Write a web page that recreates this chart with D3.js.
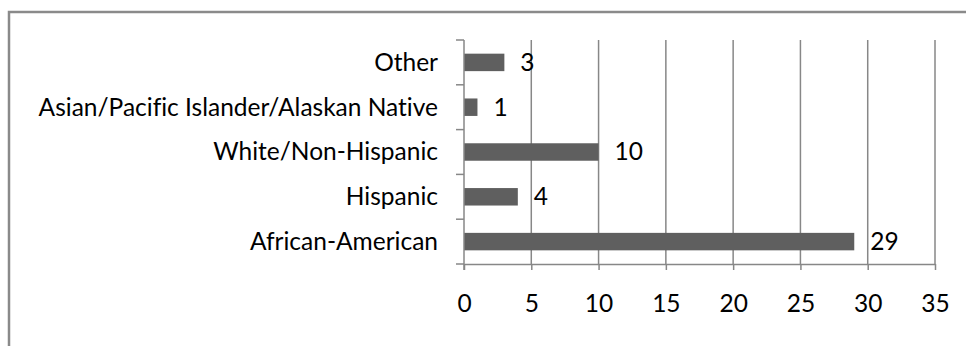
<!DOCTYPE html>
<html>
<head>
<meta charset="utf-8">
<script src="https://cdn.jsdelivr.net/npm/d3@7/dist/d3.min.js"></script>
<style>
  html, body { margin: 0; padding: 0; background: #fff; }
  svg { display: block; }
  text { font-family: Lato, "Open Sans", sans-serif; fill: #000; font-variant-ligatures: none; }
</style>
</head>
<body>
<svg id="chart" width="966" height="346"></svg>
<script>
// Categories listed bottom to top as drawn on the chart
const categories = ["African-American", "Hispanic", "White/Non-Hispanic", "Asian/Pacific Islander/Alaskan Native", "Other"];
const values = [29, 4, 10, 1, 3];
const xTicks = [0, 5, 10, 15, 20, 25, 30, 35];

const svg = d3.select("#chart");
const W = 966, H = 346;
const FONT = 24.5;

// Outer frame (open to the right and bottom)
svg.append("path")
  .attr("d", `M9,${H + 2} V12 H${W + 2}`)
  .attr("fill", "none")
  .attr("stroke", "#8a8a8a")
  .attr("stroke-width", 2.5);

const plot = { left: 464, right: 935, top: 40, bottom: 264 };

const x = d3.scaleLinear().domain([0, 35]).range([plot.left, plot.right]);
const y = d3.scaleBand()
  .domain(categories.slice().reverse())
  .range([plot.top, plot.bottom])
  .paddingInner(0.61)
  .paddingOuter(0.305);
const yEdges = d3.scaleLinear().domain([0, categories.length]).range([plot.top, plot.bottom]);

const gridColor = "#878787";

// Vertical gridlines
svg.append("g").selectAll("line")
  .data(xTicks.filter(d => d > 0))
  .join("line")
  .attr("x1", d => x(d)).attr("x2", d => x(d))
  .attr("y1", plot.top).attr("y2", plot.bottom)
  .attr("stroke", gridColor).attr("stroke-width", 1.5);

// Bars
svg.append("g").selectAll("rect")
  .data(categories.map((c, i) => ({ c, v: values[i] })))
  .join("rect")
  .attr("x", x(0))
  .attr("y", d => y(d.c))
  .attr("width", d => x(d.v) - x(0))
  .attr("height", y.bandwidth())
  .attr("fill", "#5f5f5f");

// Value labels
svg.append("g").selectAll("text")
  .data(categories.map((c, i) => ({ c, v: values[i] })))
  .join("text")
  .attr("x", d => x(d.v) + 16)
  .attr("y", d => y(d.c) + y.bandwidth() / 2)
  .attr("dy", "0.34em")
  .attr("font-size", FONT)
  .text(d => d.v);

// X axis
const xAxis = svg.append("g")
  .attr("transform", `translate(0,${plot.bottom})`)
  .call(d3.axisBottom(x).tickValues(xTicks).tickSize(6).tickPadding(25).tickSizeOuter(0));
xAxis.select(".domain").attr("stroke", gridColor).attr("stroke-width", 1.5);
xAxis.selectAll(".tick line").attr("stroke", gridColor).attr("stroke-width", 1.5);
xAxis.selectAll(".tick text").attr("font-size", FONT).attr("font-family", "Lato, 'Open Sans', sans-serif").attr("fill", "#000");

// Y axis with category separators
const yAxisG = svg.append("g");
yAxisG.append("line")
  .attr("x1", plot.left).attr("x2", plot.left)
  .attr("y1", plot.top).attr("y2", plot.bottom + 6)
  .attr("stroke", gridColor).attr("stroke-width", 1.5);
yAxisG.selectAll("line.sep")
  .data(d3.range(categories.length + 1))
  .join("line")
  .attr("class", "sep")
  .attr("x1", plot.left - 8).attr("x2", plot.left)
  .attr("y1", d => yEdges(d)).attr("y2", d => yEdges(d))
  .attr("stroke", gridColor).attr("stroke-width", 1.5);

yAxisG.selectAll("text")
  .data(categories)
  .join("text")
  .attr("x", 438)
  .attr("y", d => y(d) + y.bandwidth() / 2)
  .attr("dy", "0.34em")
  .attr("text-anchor", "end")
  .attr("font-size", FONT)
  .text(d => d);
</script>
</body>
</html>
